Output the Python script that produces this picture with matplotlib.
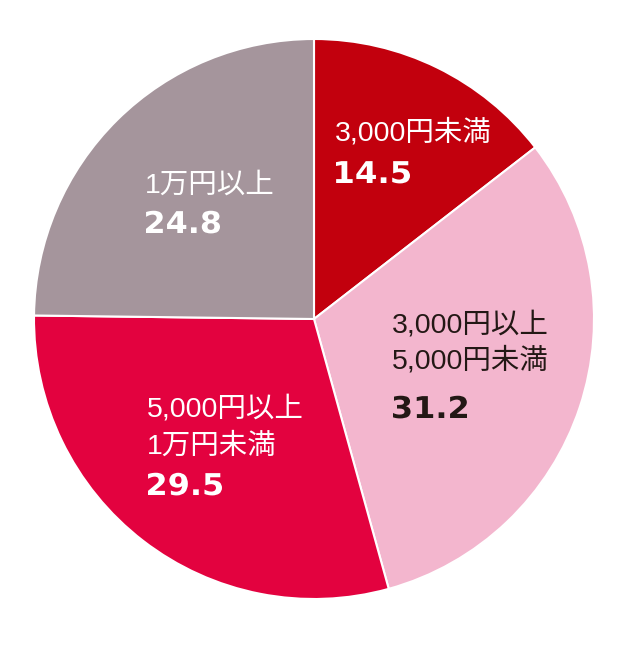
import matplotlib
matplotlib.use('Agg')
import matplotlib.pyplot as plt
from matplotlib.textpath import TextPath
from matplotlib.patches import PathPatch
from matplotlib.font_manager import FontProperties
from matplotlib.transforms import Affine2D

# 価格帯別の割合 (%)
categories = ['3,000円未満', '3,000円以上\n5,000円未満', '5,000円以上\n1万円未満', '1万円以上']
values = [14.5, 31.2, 29.5, 24.8]
value_labels = ['14.5', '31.2', '29.5', '24.8']
colors = ['#c2000d', '#f3b6ce', '#e3023f', '#a5959c']
text_colors = ['white', '#231815', 'white', 'white']

W, H = 640, 651
fig = plt.figure(figsize=(W/100, H/100), dpi=100)
ax = fig.add_axes([0, 0, 1, 1])

cx, cy, r = 314, H - 319, 280
ax.pie(values, colors=colors, startangle=90, counterclock=False,
       center=(cx, cy), radius=r,
       wedgeprops=dict(edgecolor='white', linewidth=1.5))
# pie() がlimitsを上書きするので後で設定
ax.set_xlim(0, W); ax.set_ylim(0, H)
ax.set_aspect('equal'); ax.axis('off')

# ラベル位置: (左端x, 各行のベースラインy, 数値のベースラインy) 画像ピクセル
label_pos = [(335, [141], 183),
             (392, [332, 369], 418),
             (147, [417, 454], 495),
             (145, [193], 233)]
lab_family = ['Liberation Sans', 'Noto Sans CJK JP', 'DejaVu Sans']
num_prop = FontProperties(family='DejaVu Sans', weight='bold')
num_size = 30            # 数値のem (px)
num_width = 74           # 数値の横幅 (px)

for cat, vl, (x, ys, yn), tc in zip(categories, value_labels, label_pos, text_colors):
    for ln, yb in zip(cat.split('\n'), ys):
        ax.text(x, H - yb, ln, family=lab_family, fontsize=20.5,
                color=tc, ha='left', va='baseline')
    tp = TextPath((0, 0), vl, size=num_size, prop=num_prop)
    ext = tp.get_extents()
    sx = num_width / ext.width
    tr = Affine2D().translate(-ext.x0, 0).scale(sx, 1).translate(x + 1, H - yn)
    ax.add_patch(PathPatch(tr.transform_path(tp), facecolor=tc,
                           edgecolor='none', lw=0))

fig.savefig('out.png', dpi=100)
